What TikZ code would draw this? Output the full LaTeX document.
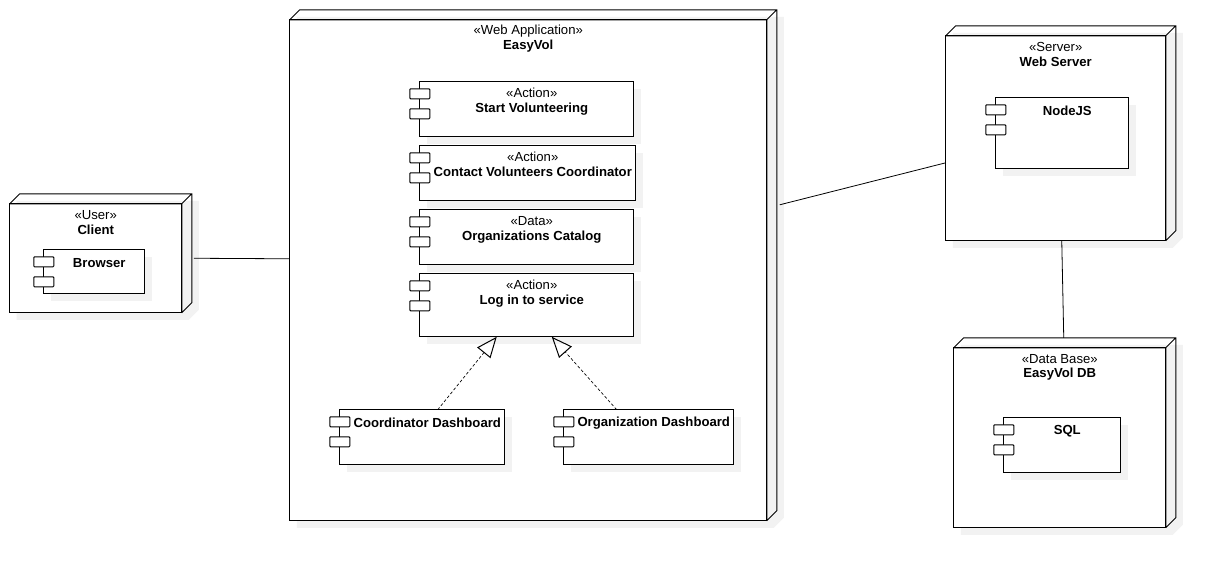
\documentclass[tikz,border=0pt]{standalone}
\usepackage{fontspec}
\setmainfont{Liberation Sans}
\usetikzlibrary{arrows.meta}
\definecolor{shadowgray}{HTML}{F2F2F2}
\tikzset{
  umlline/.style={draw=black, line width=0.75pt, line join=miter},
  nodebox/.style={umlline, fill=white, anchor=north west, inner sep=0pt, outer sep=0pt},
  compbox/.style={umlline, fill=white, anchor=north west, inner sep=0pt, outer sep=0pt},
  comptab/.style={umlline, fill=white, rounded corners=0.6pt, inner sep=0pt, outer sep=0pt, minimum width=15pt, minimum height=7.5pt},
  stereotext/.style={font=\fontsize{9.85}{11}\selectfont, inner sep=0pt},
  titletext/.style={font=\fontsize{9.85}{11}\selectfont\bfseries, inner sep=0pt},
  link/.style={draw=black, line width=0.6pt},
  realize/.style={draw=black, line width=0.5pt, dash pattern=on 2.2pt off 1.6pt,
    -{Triangle[open, length=15.5pt, width=12.75pt, line width=0.75pt, sep=0pt]}},
}
% name, x, y, width, height, stereotype, title
\newcommand{\umlnode}[7]{
  \fill[shadowgray] (#2+7,#3-3) -- ++(#4,0) -- ++(10,0) -- ++(0,#5) -- ++(-10,10) -- ++(-#4,0) -- cycle;
  \node[nodebox, minimum width=#4*0.75pt, minimum height=#5*0.75pt] (#1) at (#2,#3) {};
  \draw[umlline] (#1.north west) -- ++(10,-10) -- ++(#4,0) -- ++(0,#5) -- (#1.south east)
    (#1.north east) -- ++(10,-10)
    (#1.north west) -- (#1.north east) -- (#1.south east);
  \node[stereotext] (#1-type) at ([yshift=-8.5pt]#1.north) {«#6»};
  \node[titletext] (#1-title) at ([yshift=-19.5pt]#1.north) {#7};
}
% name, x, y, width, height, title offset, title
\newcommand{\umlcomp}[7]{
  \fill[shadowgray] (#2+7,#3+7) rectangle ++(#4,#5);
  \node[compbox, minimum width=#4*0.75pt, minimum height=#5*0.75pt] (#1) at (#2,#3) {};
  \node[comptab] (#1-tab1) at ([yshift=-9pt]#1.north west) {};
  \node[comptab] (#1-tab2) at ([yshift=-24pt]#1.north west) {};
  \node[titletext] (#1-title) at ([xshift=3.75pt,yshift=-#6*0.75pt]#1.north) {#7};
}
\begin{document}
\begin{tikzpicture}[x=0.75pt, y=-0.75pt]
  \useasboundingbox (0.25,0.25) rectangle (1217.25,569.25);

  \umlnode{client}{10}{204}{172}{109}{User}{Client}
  \umlnode{app}{290}{20}{477}{501}{Web Application}{EasyVol}
  \umlnode{web}{946}{36}{220}{205}{Server}{Web Server}
  \umlnode{db}{954}{348}{212}{180}{Data Base}{EasyVol DB}

  \umlcomp{browser}{44}{250}{101}{44}{13}{Browser}
  \umlcomp{start}{420}{82}{214}{55}{27}{Start Volunteering}
  \umlcomp{contact}{420}{146}{216}{55}{26.5}{Contact Volunteers Coordinator}
  \umlcomp{catalog}{420}{210}{214}{55}{27}{Organizations Catalog}
  \umlcomp{login}{420}{274}{214}{63}{27}{Log in to service}
  \umlcomp{coord}{340}{410}{165}{55}{13.5}{Coordinator Dashboard}
  \umlcomp{orgdash}{564}{410}{170}{55}{13.5}{Organization Dashboard}
  \umlcomp{nodejs}{996}{98}{133}{71}{13}{NodeJS}
  \umlcomp{sql}{1004}{418}{117}{55}{13}{SQL}

  \foreach \comp/\kind in {start/Action, contact/Action, catalog/Data, login/Action} {
    \node[stereotext] (\comp-type) at ([xshift=3.75pt,yshift=-8.25pt]\comp.north) {«\kind»};
  }

  \draw[link] ([xshift=9pt]client.east) -- ([yshift=8.6pt]app.west);
  \draw[link] ([xshift=9.75pt,yshift=49.1pt]app.east) -- ([yshift=-18.4pt]web.west);
  \draw[link] ([xshift=4.5pt]web.south) -- ([xshift=3pt,yshift=7.5pt]db.north);

  \draw[realize] ([xshift=11.6pt]coord.north) -- ([xshift=-22.5pt]login.south);
  \draw[realize] ([xshift=-24pt]orgdash.north) -- ([xshift=18.75pt]login.south);
\end{tikzpicture}
\end{document}
